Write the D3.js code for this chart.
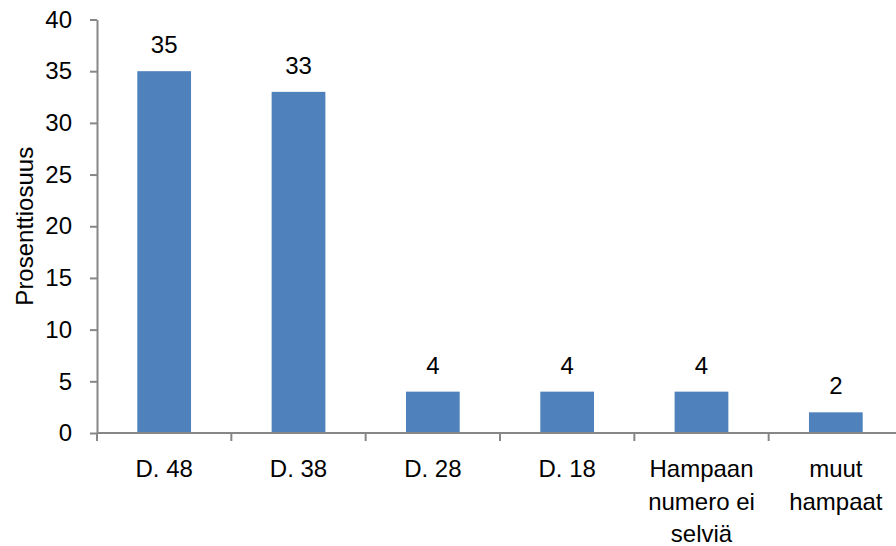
<!DOCTYPE html>
<html>
<head>
<meta charset="utf-8">
<script src="https://cdn.jsdelivr.net/npm/d3@7"></script>
<style>
  html, body { margin: 0; padding: 0; background: #fff; }
  svg { display: block; }
  text { font-family: "Liberation Sans", Arial, sans-serif; fill: #000; }
</style>
</head>
<body>
<svg id="chart" width="896" height="546"></svg>
<script>
// Share of cases per tooth (percent)
const categories = ["D. 48", "D. 38", "D. 28", "D. 18", "Hampaan numero ei selviä", "muut hampaat"];
const categoryLines = [["D. 48"], ["D. 38"], ["D. 28"], ["D. 18"], ["Hampaan", "numero ei", "selviä"], ["muut", "hampaat"]];
const values = [35, 33, 4, 4, 4, 2];
const yTicks = [0, 5, 10, 15, 20, 25, 30, 35, 40];
const yTitle = "Prosenttiosuus";

const W = 896, H = 546;
const plot = { left: 97, right: 903, top: 19.5, bottom: 433 };
const axisColor = "#878787";
const barColor = "#4F81BD";
const fontSize = 24;

const svg = d3.select("#chart");

const x = d3.scaleBand()
  .domain(categories)
  .range([plot.left, plot.right])
  .paddingInner(0.6)
  .paddingOuter(0.3);

const y = d3.scaleLinear()
  .domain([0, 40])
  .range([plot.bottom, plot.top]);

// Bars
svg.append("g")
  .selectAll("rect")
  .data(values)
  .join("rect")
  .attr("x", (d, i) => x(categories[i]))
  .attr("y", d => y(d))
  .attr("width", x.bandwidth())
  .attr("height", d => y(0) - y(d))
  .attr("fill", barColor);

// Value labels
svg.append("g")
  .selectAll("text")
  .data(values)
  .join("text")
  .attr("x", (d, i) => x(categories[i]) + x.bandwidth() / 2)
  .attr("y", d => y(d) - 18)
  .attr("text-anchor", "middle")
  .attr("font-size", fontSize)
  .text(d => d);

// Y axis
const yAxis = svg.append("g")
  .attr("transform", `translate(${plot.left},0)`)
  .call(d3.axisLeft(y).tickValues(yTicks).tickSize(7).tickPadding(18).tickSizeOuter(0));
yAxis.select(".domain").attr("stroke", axisColor).attr("stroke-width", 2);
yAxis.selectAll(".tick line").attr("stroke", axisColor).attr("stroke-width", 2);
yAxis.selectAll(".tick text")
  .attr("font-size", fontSize)
  .attr("font-family", '"Liberation Sans", Arial, sans-serif')
  .attr("fill", "#000");

// X axis line and category boundary ticks
const xg = svg.append("g");
xg.append("line")
  .attr("x1", plot.left).attr("x2", plot.right)
  .attr("y1", y(0)).attr("y2", y(0))
  .attr("stroke", axisColor).attr("stroke-width", 2);

const step = x.step();
const boundaries = d3.range(categories.length + 1).map(i => plot.left + i * step);
xg.selectAll("line.bt")
  .data(boundaries)
  .join("line")
  .attr("class", "bt")
  .attr("x1", d => d).attr("x2", d => d)
  .attr("y1", y(0)).attr("y2", y(0) + 8)
  .attr("stroke", axisColor).attr("stroke-width", 2);

// Category labels (wrapped)
const lineHeight = 32.5;
const labels = xg.selectAll("text.cat")
  .data(categoryLines)
  .join("text")
  .attr("class", "cat")
  .attr("text-anchor", "middle")
  .attr("font-size", fontSize)
  .attr("transform", (d, i) => `translate(${x(categories[i]) + x.bandwidth() / 2},${y(0) + 44})`);
labels.selectAll("tspan")
  .data(d => d)
  .join("tspan")
  .attr("x", 0)
  .attr("y", (d, i) => i * lineHeight)
  .text(d => d);

// Y axis title
svg.append("text")
  .attr("transform", `translate(33,${(plot.top + plot.bottom) / 2}) rotate(-90)`)
  .attr("text-anchor", "middle")
  .attr("font-size", fontSize)
  .text(yTitle);
</script>
</body>
</html>
